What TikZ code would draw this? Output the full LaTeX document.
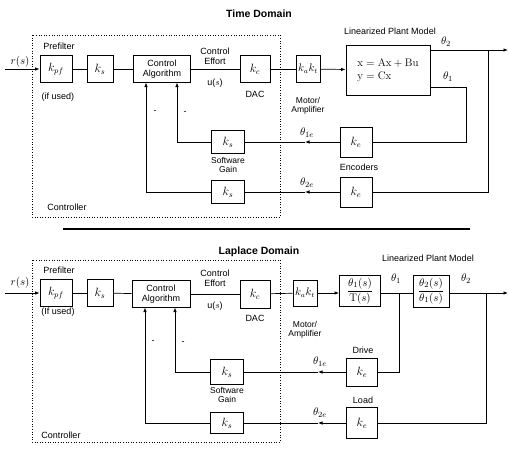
\documentclass[tikz,border=0pt]{standalone}
\usepackage{fontspec}
\newfontfamily\lsans{Liberation Sans}
\usetikzlibrary{arrows.meta}
\begin{document}
\begin{tikzpicture}[x=1pt,y=-1pt,line width=0.7pt,
  blk/.style={draw,line width=0.9pt,inner sep=0pt},
  arr/.style={-{Latex[length=4.5pt,width=3.5pt]}},
  lbl/.style={font=\lsans\fontsize{9}{10}\selectfont,inner sep=0pt,align=center},
  sm/.style={font=\lsans\fontsize{8.5}{9}\selectfont},
  mth/.style={font=\fontsize{11}{12}\selectfont,inner sep=0pt},
  ttl/.style={font=\lsans\bfseries\fontsize{10.5}{12}\selectfont,inner sep=0pt},
  ctrl/.style={dotted,line width=0.6pt},
  bx/.style={font=\fontsize{11.5}{13}\selectfont}]
\useasboundingbox (0,0) rectangle (509,448);

% ================= TIME DOMAIN =================
\node[ttl] (t1) at (259,14) {Time Domain};
\draw[ctrl] (32,35) rectangle (280,217);

\node[blk,bx,minimum width=32pt,minimum height=27pt] (kpf1) at (56,69) {$k_{pf}$};
\node[blk,bx,minimum width=26pt,minimum height=27pt] (ks1) at (100,69) {$k_s$};
\node[blk,lbl,minimum width=57pt,minimum height=27pt] (ca1) at (162,69) {Control\\Algorithm};
\node[blk,bx,minimum width=30pt,minimum height=27pt] (kc1) at (255,69) {$k_c$};
\node[blk,minimum width=24pt,minimum height=27pt,font=\fontsize{10.5}{12}\selectfont] (ka1) at (308,69) {$k_ak_t$};
\node[blk,minimum width=84pt,minimum height=50pt,align=left,font=\fontsize{11}{12.5}\selectfont] (pl1) at (388,70)
  {$\mathrm{x} = \mathrm{Ax} + \mathrm{Bu}$\\$\mathrm{y} = \mathrm{Cx}$};
\node[blk,bx,minimum width=32pt,minimum height=30pt] (ke1) at (356,142) {$k_e$};
\node[blk,bx,minimum width=33pt,minimum height=23pt] (ks1f) at (228,142) {$k_s$};
\node[blk,bx,minimum width=32pt,minimum height=30pt] (ke2) at (356,192) {$k_e$};
\node[blk,bx,minimum width=33pt,minimum height=23pt] (ks2f) at (228,192) {$k_s$};

\coordinate (r1) at (5,69);
\coordinate (out1) at (508,50);
\coordinate (m1) at (305,142);
\coordinate (m2) at (305,192);

\draw[arr] (r1) -- (kpf1);
\draw (kpf1) -- (ks1);
\draw (ks1) -- (ca1);
\draw (ca1) -- (kc1);
\draw (kc1) -- (ka1);
\draw[arr] (ka1) -- (pl1);
\draw[arr] (pl1.east |- out1) -- (out1);
\draw (pl1.east |- 0,87) -- (466,87) -- (466,142) -- (ke1.east);
\draw (488,50) -- (488,192) -- (ke2.east);
\draw[arr] (ke1.west) -- (m1);
\draw (m1) -- (ks1f.east);
\draw[arr] (ke2.west) -- (m2);
\draw (m2) -- (ks2f.east);
\draw[arr] (ks1f.west) -- (177,142) -- (177,82.5);
\draw[arr] (ks2f.west) -- (146,192) -- (146,82.5);

\node[mth] (r1l) at (20,62) {$r(s)$};
\node[lbl] (pf1l) at (59,46) {Prefilter};
\node[lbl] (iu1l) at (58,97) {(if used)};
\node[lbl] (ce1l) at (215,56) {Control\\Effort};
\node[lbl] (u1l) at (215,83) {u($s$)};
\node[lbl] (dac1l) at (255,94) {DAC};
\node[lbl,sm] (ma1l) at (308,106) {Motor/\\Amplifier};
\node[lbl] (lp1l) at (390,31) {Linearized Plant Model};
\node[mth] (th21) at (446,42) {$\theta_2$};
\node[mth] (th11) at (448,77) {$\theta_1$};
\node[mth] (th1e1) at (307,133) {$\theta_{1e}$};
\node[mth] (th2e1) at (307,183) {$\theta_{2e}$};
\node[lbl,sm] (sg1l) at (228,165) {Software\\Gain};
\node[lbl] (enc1l) at (359,167) {Encoders};
\node[lbl] (con1l) at (67,207) {Controller};
\node[lbl] (mi1a) at (155,112) {-};
\node[lbl] (mi1b) at (185,113) {-};

% separator
\draw[line width=2pt] (63,229) -- (470,229);

% ================= LAPLACE DOMAIN =================
\node[ttl] (t2) at (259,252) {Laplace Domain};
\draw[ctrl] (32,260) rectangle (280,442);

\node[blk,bx,minimum width=32pt,minimum height=27pt] (kpf2) at (56,293) {$k_{pf}$};
\node[blk,bx,minimum width=26pt,minimum height=27pt] (ks2) at (100,293) {$k_s$};
\node[blk,lbl,minimum width=58pt,minimum height=27pt] (ca2) at (161,294) {Control\\Algorithm};
\node[blk,bx,minimum width=30pt,minimum height=28pt] (kc2) at (255,294) {$k_c$};
\node[blk,minimum width=24pt,minimum height=26pt,font=\fontsize{10.5}{12}\selectfont] (ka2) at (305,293) {$k_ak_t$};
\node[blk,minimum width=41pt,minimum height=31pt,font=\fontsize{11}{12}\selectfont] (pa2) at (360,291)
  {$\displaystyle\frac{\theta_1(s)}{\mathrm{T}(s)}$};
\node[blk,minimum width=36pt,minimum height=32pt,font=\fontsize{11}{12}\selectfont] (pb2) at (431,291)
  {$\displaystyle\frac{\theta_2(s)}{\theta_1(s)}$};
\node[blk,bx,minimum width=31pt,minimum height=28pt] (ke3) at (362,372) {$k_e$};
\node[blk,bx,minimum width=33pt,minimum height=25pt] (ks3f) at (227,372) {$k_s$};
\node[blk,bx,minimum width=31pt,minimum height=31pt] (ke4) at (362,423) {$k_e$};
\node[blk,bx,minimum width=33pt,minimum height=21pt] (ks4f) at (227,423) {$k_s$};

\coordinate (r2) at (5,293);
\coordinate (out2) at (508,293);
\coordinate (m3) at (318,372);
\coordinate (m4) at (318,423);

\draw[arr] (r2) -- (kpf2);
\draw (kpf2) -- (ks2);
\draw (ks2) -- (ca2);
\draw (ca2) -- (kc2);
\draw (kc2) -- (ka2);
\draw[arr] (ka2) -- (pa2.west |- ka2);
\draw (pa2.east |- ka2) -- (pb2.west |- ka2);
\draw[arr] (pb2.east |- ka2) -- (out2);
\draw (399,293) -- (399,372) -- (ke3.east);
\draw (486,293) -- (486,423) -- (ke4.east);
\draw[arr] (ke3.west) -- (m3);
\draw (m3) -- (ks3f.east);
\draw[arr] (ke4.west) -- (m4);
\draw (m4) -- (ks4f.east);
\draw[arr] (ks3f.west) -- (175,372) -- (175,307.5);
\draw[arr] (ks4f.west) -- (145,423) -- (145,307.5);

\node[mth] (r2l) at (20,283) {$r(s)$};
\node[lbl] (pf2l) at (59,270) {Prefilter};
\node[lbl] (iu2l) at (58,312) {(If used)};
\node[lbl] (ce2l) at (215,278) {Control\\Effort};
\node[lbl] (u2l) at (215,306) {u($s$)};
\node[lbl] (dac2l) at (255,318) {DAC};
\node[lbl,sm] (ma2l) at (305,330) {Motor/\\Amplifier};
\node[lbl] (lp2l) at (428,258) {Linearized Plant Model};
\node[mth] (th12) at (396,279) {$\theta_1$};
\node[mth] (th22) at (466,279) {$\theta_2$};
\node[mth] (th1e2) at (320,362) {$\theta_{1e}$};
\node[mth] (th2e2) at (320,413) {$\theta_{2e}$};
\node[lbl] (drv) at (363,350) {Drive};
\node[lbl] (lod) at (363,400) {Load};
\node[lbl,sm] (sg2l) at (227,395) {Software\\Gain};
\node[lbl] (con2l) at (61,435) {Controller};
\node[lbl] (mi2a) at (153,342) {-};
\node[lbl] (mi2b) at (183,343) {-};
\end{tikzpicture}
\end{document}
